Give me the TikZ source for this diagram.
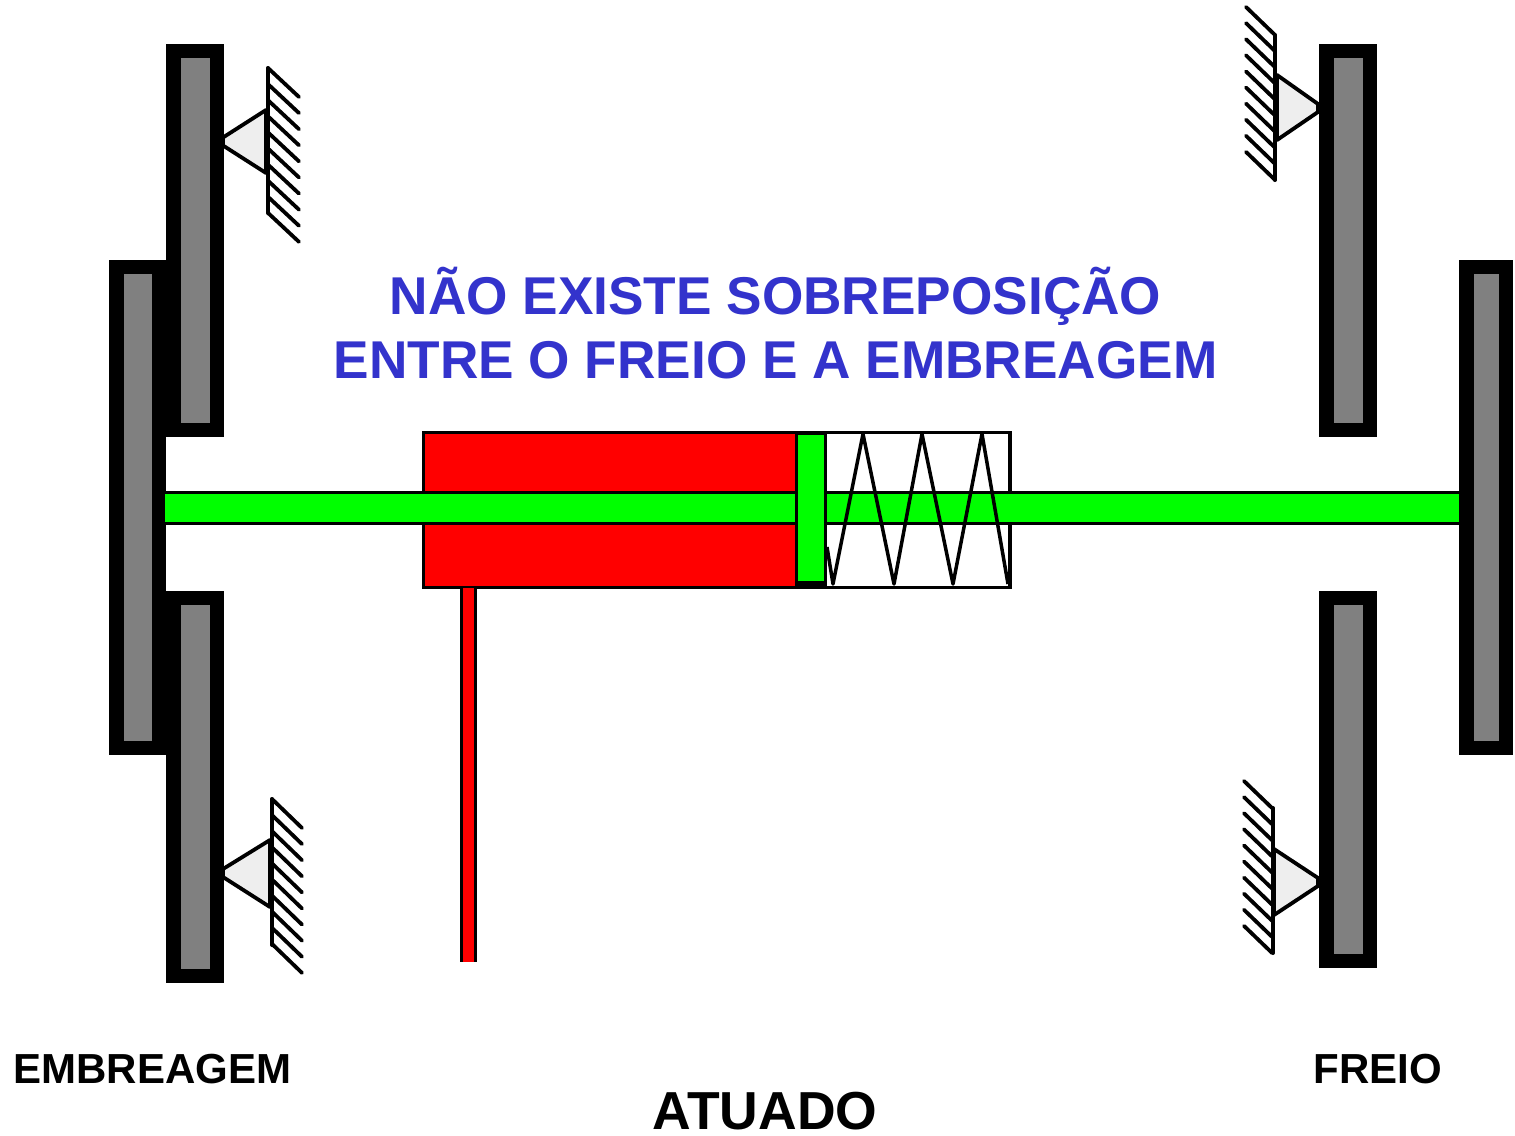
\documentclass[tikz,border=0pt]{standalone}
\usepackage{fontspec}
\setmainfont{Liberation Sans}
\definecolor{plategray}{RGB}{128,128,128}
\definecolor{shaftgreen}{RGB}{0,255,0}
\definecolor{cylred}{RGB}{255,0,0}
\definecolor{pivotfill}{RGB}{238,238,238}
\definecolor{msgblue}{RGB}{51,51,204}
\tikzset{
  plateout/.style={fill=black},
  platein/.style={fill=plategray},
  outline/.style={draw=black,line width=3.3pt},
  thin line/.style={draw=black,line width=3.8pt},
  hatchline/.style={line width=3.8pt,line cap=round},
  wallline/.style={line width=4pt,line cap=round},
  msg/.style={anchor=base,inner sep=0pt,text=msgblue,font=\bfseries\fontsize{53.2}{60}\selectfont},
  lab/.style={anchor=base,inner sep=0pt,text=black,font=\bfseries\fontsize{42}{48}\selectfont},
  labbig/.style={anchor=base,inner sep=0pt,text=black,font=\bfseries\fontsize{53.5}{60}\selectfont}
}
% plate: outer x1,y1,x2,y2
\newcommand{\myplate}[4]{%
  \fill[plateout] (#1,#2) rectangle (#3,#4);
  \fill[platein] (#1+14.5,#2+14) rectangle (#3-14,#4-14);
}
% support: wall x, wall top, wall bottom, hatch dx, triangle lower y, triangle x, triangle upper y, apex x, apex y
\newcommand{\mysupport}[9]{%
  \filldraw[fill=pivotfill,thin line,line join=round] (#6,#7) -- (#8,#9-4) -- (#8,#9+4) -- (#6,#5) -- cycle;
  \draw[wallline] (#1,#2) -- (#1,#3);
  \foreach \k in {0,...,9}{
    \draw[hatchline] (#1,#2+\k*16.1) -- ++(#4,29);
  }
}
\begin{document}
\begin{tikzpicture}[x=1pt,y=-1pt]
\useasboundingbox (0,0) rectangle (1515,1135);
\fill[white] (0,0) rectangle (1515,1135);

% supports
\mysupport{268}{68}{213}{31}{173}{266}{110}{223}{141.5}
\mysupport{272}{799}{945}{30}{907}{270}{840}{223}{873}
% right supports: hatches run up-left
\filldraw[fill=pivotfill,thin line,line join=round] (1277,75) -- (1318,104) -- (1318,112) -- (1277,140) -- cycle;
\draw[wallline] (1275,35) -- (1275,180);
\foreach \k in {0,...,9}{\draw[hatchline] (1275,35+\k*16.1) -- ++(-29,-28);}
\filldraw[fill=pivotfill,thin line,line join=round] (1274,849) -- (1318,878) -- (1318,886) -- (1274,915) -- cycle;
\draw[wallline] (1273,808) -- (1273,953);
\foreach \k in {0,...,9}{\draw[hatchline] (1272,808+\k*16.1) -- ++(-28,-27);}

% plates
\myplate{166}{44}{224}{437}
\myplate{166}{591}{224}{983}
\myplate{109}{260}{166}{755}
\myplate{1319}{44}{1377}{437}
\myplate{1319}{591}{1377}{968}
\myplate{1459}{260}{1513}{755}

% cylinder
\fill[white] (422,431) rectangle (1011,589);
\fill[cylred] (422,431) rectangle (797,589);
% cylinder outline
\draw[outline] (423.5,432.5) rectangle (1010,587.5);
% shaft, in front of the cylinder walls
\fill[shaftgreen] (165,491) rectangle (1459,525);
\draw[black,line width=3.4pt] (165,492.5) -- (1459,492.5) (165,523.5) -- (1459,523.5);
% pipe
\fill[cylred] (460,588) rectangle (477,962);
\draw[black,line width=3.5pt] (461.5,588) -- (461.5,962) (475.5,588) -- (475.5,962);
% spring
\draw[line width=3.5pt,line join=round] (827,547) -- (833,584) -- (863,434) -- (894,584) -- (922,434) -- (953,584) -- (982,434) -- (1008,584);
% piston
\fill[black] (795,431) rectangle (827,589);
\fill[shaftgreen] (798,435) rectangle (824,581);

% texts
\node[msg] (line1) at (775.5,314.5) {NÃO EXISTE SOBREPOSIÇÃO};
\node[msg] (line2) at (775.5,378.5) {ENTRE O FREIO E A EMBREAGEM};
\node[lab] (emb) at (152.5,1083) {EMBREAGEM};
\node[lab] (fre) at (1377.5,1083) {FREIO};
\node[labbig] (atu) at (765,1129.5) {ATUADO};
\end{tikzpicture}
\end{document}
